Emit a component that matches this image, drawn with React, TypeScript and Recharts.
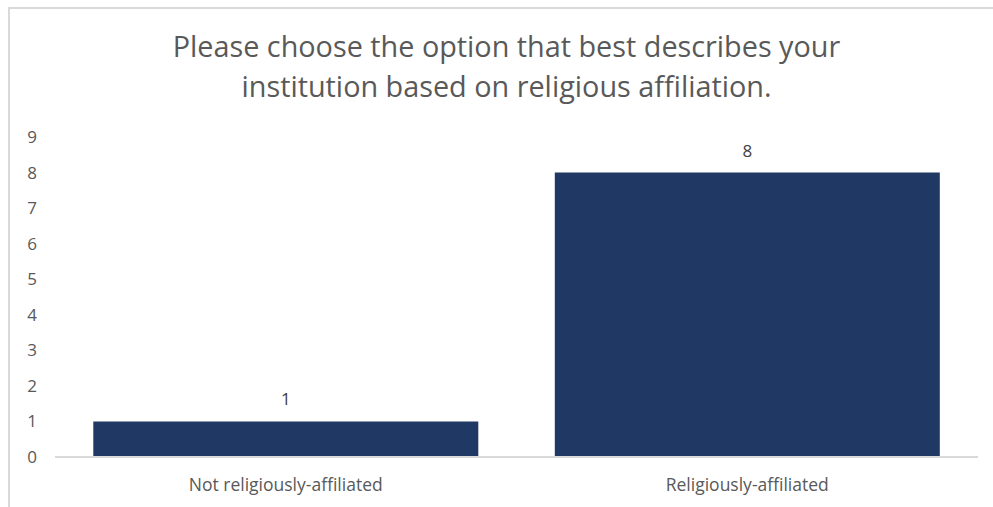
import { BarChart, Bar, XAxis, YAxis, LabelList } from 'recharts';

const categories = ['Not religiously-affiliated', 'Religiously-affiliated'];
const counts = [1, 8];
const yTicks = [0, 1, 2, 3, 4, 5, 6, 7, 8, 9];

const data = categories.map((name, i) => ({ name, count: counts[i] }));

const FONT = '"Open Sans", sans-serif';
const TEXT = '#595959';

export default function App() {
  return (
    <div
      style={{
        position: 'fixed',
        top: 0,
        left: 0,
        width: 993,
        height: 507,
        background: '#fff',
        overflow: 'hidden',
        fontFamily: FONT,
      }}
    >
      {/* frame */}
      <div
        style={{
          position: 'absolute',
          left: 8,
          top: 7,
          width: 1000,
          height: 520,
          borderLeft: '2px solid #d9d9d9',
          borderTop: '2px solid #d9d9d9',
        }}
      />
      {/* title */}
      <div
        style={{
          position: 'absolute',
          left: 0,
          top: 26,
          width: 1013,
          textAlign: 'center',
          fontSize: 28.8,
          lineHeight: '40px',
          color: TEXT,
        }}
      >
        Please choose the option that best describes your
        <br />
        institution based on religious affiliation.
      </div>
      <BarChart
        width={993}
        height={507}
        data={data}
        margin={{ top: 137, right: 15, bottom: 20, left: 0 }}
        barCategoryGap="8.3%"
        style={{ position: 'absolute', top: 0, left: 0 }}
      >
        <XAxis
          dataKey="name"
          height={30}
          axisLine={{ stroke: '#d9d9d9', strokeWidth: 2 }}
          tickLine={false}
          tickSize={0}
          tickMargin={22}
          tick={{ fill: TEXT, fontSize: 17.5, fontFamily: FONT }}
        />
        <YAxis
          domain={[0, 9]}
          ticks={yTicks}
          width={55}
          axisLine={false}
          tickLine={false}
          tickSize={0}
          tickMargin={18}
          interval={0}
          tick={{ fill: TEXT, fontSize: 17, fontFamily: FONT }}
        />
        <Bar dataKey="count" fill="#203864" isAnimationActive={false}>
          <LabelList
            dataKey="count"
            position="top"
            offset={16}
            fill="#404040"
            fontSize={17}
            fontFamily={FONT}
          />
        </Bar>
      </BarChart>
    </div>
  );
}
